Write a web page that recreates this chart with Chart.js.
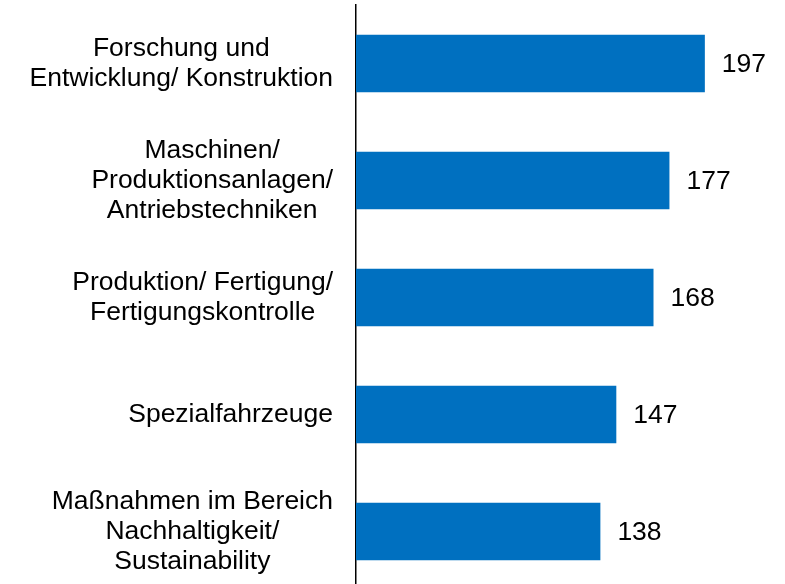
<!DOCTYPE html>
<html>
<head>
<meta charset="utf-8">
<script src="https://cdn.jsdelivr.net/npm/chart.js@4"></script>
<style>
  html, body { margin: 0; padding: 0; background: #fff; overflow: hidden; }
  #wrap { width: 785px; height: 590px; }
</style>
</head>
<body>
<div id="wrap"><canvas id="barChart" width="785" height="590"></canvas></div>
<script>
// Categories (top to bottom) and values
const categories = [
  ['Forschung und', 'Entwicklung/ Konstruktion'],
  ['Maschinen/', 'Produktionsanlagen/', 'Antriebstechniken'],
  ['Produktion/ Fertigung/', 'Fertigungskontrolle'],
  ['Spezialfahrzeuge'],
  ['Maßnahmen im Bereich', 'Nachhaltigkeit/', 'Sustainability']
];
const values = [197, 177, 168, 147, 138];

const FONT = '26.5px "Liberation Sans", Arial, sans-serif';
const LINE_H = 30;

// Category labels: block right-aligned to the axis, lines centred in the block
const categoryLabels = {
  id: 'categoryLabels',
  afterDraw(chart) {
    const ctx = chart.ctx;
    const y = chart.scales.y;
    const rightEdge = y.right - 23;
    ctx.save();
    ctx.font = FONT;
    ctx.fillStyle = '#000';
    ctx.textAlign = 'center';
    ctx.textBaseline = 'middle';
    categories.forEach((lines, i) => {
      const widest = Math.max(...lines.map(l => ctx.measureText(l).width));
      const cx = rightEdge - widest / 2;
      const cy = y.getPixelForValue(i);
      const top = cy - (lines.length - 1) * LINE_H / 2;
      lines.forEach((l, j) => ctx.fillText(l, cx, top + j * LINE_H));
    });
    ctx.restore();
  }
};

// Value labels at the end of each bar
const valueLabels = {
  id: 'valueLabels',
  afterDatasetsDraw(chart) {
    const ctx = chart.ctx;
    const meta = chart.getDatasetMeta(0);
    ctx.save();
    ctx.font = FONT;
    ctx.fillStyle = '#000';
    ctx.textAlign = 'left';
    ctx.textBaseline = 'middle';
    meta.data.forEach((bar, i) => {
      ctx.fillText(String(values[i]), bar.x + 17, bar.y + 1);
    });
    ctx.restore();
  }
};

function initializeChart() {
  const ctx = document.getElementById('barChart');
  if (!ctx) return;

  new Chart(ctx, {
    type: 'bar',
    data: {
      labels: categories,
      datasets: [{
        data: values,
        backgroundColor: '#0070C0',
        borderWidth: 0,
        barPercentage: 0.49,
        categoryPercentage: 1
      }]
    },
    options: {
      indexAxis: 'y',
      responsive: false,
      animation: false,
      layout: { padding: { top: 5, right: 4, left: 0, bottom: 0 } },
      plugins: {
        legend: { display: false },
        tooltip: { enabled: false }
      },
      scales: {
        x: {
          display: false,
          min: 0,
          max: 240
        },
        y: {
          afterFit(scale) { scale.width = 356; },
          grid: { display: false, drawTicks: false },
          border: { display: true, color: '#000', width: 1.5 },
          ticks: { display: false }
        }
      }
    },
    plugins: [categoryLabels, valueLabels]
  });
}

document.addEventListener('DOMContentLoaded', () => {
  initializeChart();
});
</script>
</body>
</html>
